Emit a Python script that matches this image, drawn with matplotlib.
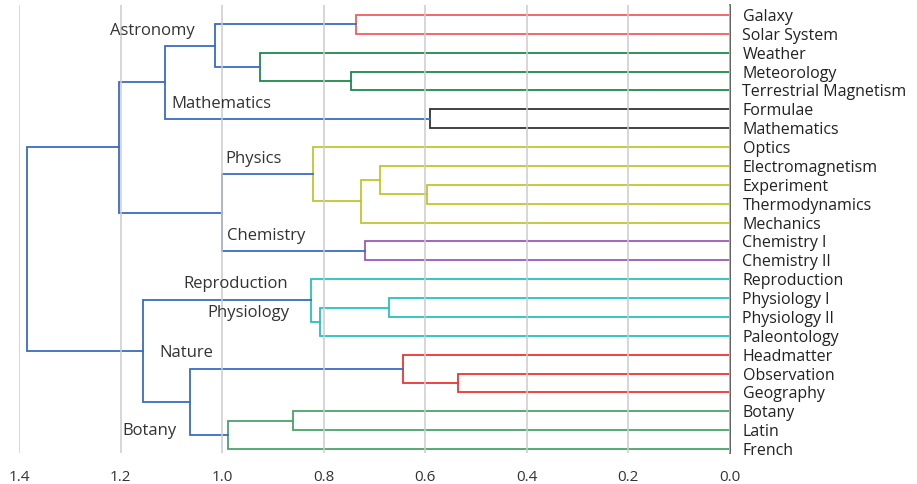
import numpy as np
import matplotlib.pyplot as plt

# -----------------------
# Data
# -----------------------

leaves = ["Galaxy", "Solar System", "Weather", "Meteorology", "Terrestrial Magnetism",
          "Formulae", "Mathematics", "Optics", "Electromagnetism", "Experiment",
          "Thermodynamics", "Mechanics", "Chemistry I", "Chemistry II", "Reproduction",
          "Physiology I", "Physiology II", "Paleontology", "Headmatter", "Observation",
          "Geography", "Botany", "Latin", "French"]

# linkage: new cluster id = len(leaves) + row index
left = [0, 3, 2, 24, 5, 27, 9, 8, 31, 7, 12, 33, 29, 15, 37, 14, 19, 18, 21, 42, 41, 39, 36]
right = [1, 4, 25, 26, 6, 28, 10, 30, 11, 32, 13, 34, 35, 16, 17, 38, 20, 40, 22, 23, 43, 44, 45]
height = [0.736, 0.747, 0.925, 1.015, 0.59, 1.113, 0.596, 0.69, 0.726, 0.822, 0.718, 1.0,
          1.204, 0.671, 0.807, 0.825, 0.535, 0.643, 0.86, 0.988, 1.064, 1.156, 1.385]
group = ["red", "green", "green", "blue", "black", "blue", "yellow", "yellow", "yellow",
         "yellow", "purple", "blue", "blue", "cyan", "cyan", "cyan", "red2", "red2",
         "green2", "green2", "blue", "blue", "blue"]

cluster_names = ["Astronomy", "Mathematics", "Physics", "Chemistry",
                 "Reproduction", "Physiology", "Nature", "Botany"]
name_x = [1.22, 1.10, 0.994, 0.99, 1.077, 1.03, 1.124, 1.197]
name_y = [0.85, 4.72, 7.63, 11.7, 14.25, 15.8, 17.9, 22.05]

palette = {"red": "#f25c5c", "green": "#1e8a4c", "black": "#333333",
           "yellow": "#bfc72e", "purple": "#9b59b6", "cyan": "#26c2c2",
           "red2": "#ee3333", "green2": "#4aa36a", "blue": "#3a6cc0"}

plt.rcParams['font.family'] = ['Open Sans', 'DejaVu Sans']

# -----------------------
# Plot
# -----------------------

fig = plt.figure(figsize=(9.17, 4.84), dpi=100)
ax = fig.add_axes([19 / 917, 1 - 453 / 484, (730 - 19) / 917, 448 / 484])

n = len(leaves)
pos = {i: float(i) for i in range(n)}
hgt = {i: 0.0 for i in range(n)}

for k in range(len(height)):
    a, b, h = left[k], right[k], height[k]
    ya, yb = pos[a], pos[b]
    ax.plot([hgt[a], h, h, hgt[b]], [ya, ya, yb, yb],
            color=palette[group[k]], lw=1.3, zorder=2, solid_joinstyle="miter")
    pos[n + k] = (ya + yb) / 2
    hgt[n + k] = h

for name, x, y in zip(cluster_names, name_x, name_y):
    ax.text(x, y, name, fontsize=12, color="#333333", ha="left", va="center")

ax.set_xlim(1.4, 0.0)
ax.set_ylim(23.21, -0.53)
ax.set_xticks(np.arange(0, 1.41, 0.2))
ax.set_xticklabels([f"{v:.1f}" for v in np.arange(0, 1.41, 0.2)])
ax.set_yticks(range(n))
ax.set_yticklabels(leaves)
ax.yaxis.tick_right()
ax.tick_params(axis="y", length=0, pad=9, labelsize=11.5, labelcolor="#222222")
ax.tick_params(axis="x", length=0, pad=12, labelsize=11, labelcolor="#333333")

ax.grid(axis="x", color="#cccccc", lw=1.1, zorder=3)
ax.set_axisbelow(False)
for s in ["left", "top", "bottom"]:
    ax.spines[s].set_visible(False)
ax.spines["right"].set_color("#444444")
ax.spines["right"].set_linewidth(1.2)

fig.savefig("out.png", dpi=100)
